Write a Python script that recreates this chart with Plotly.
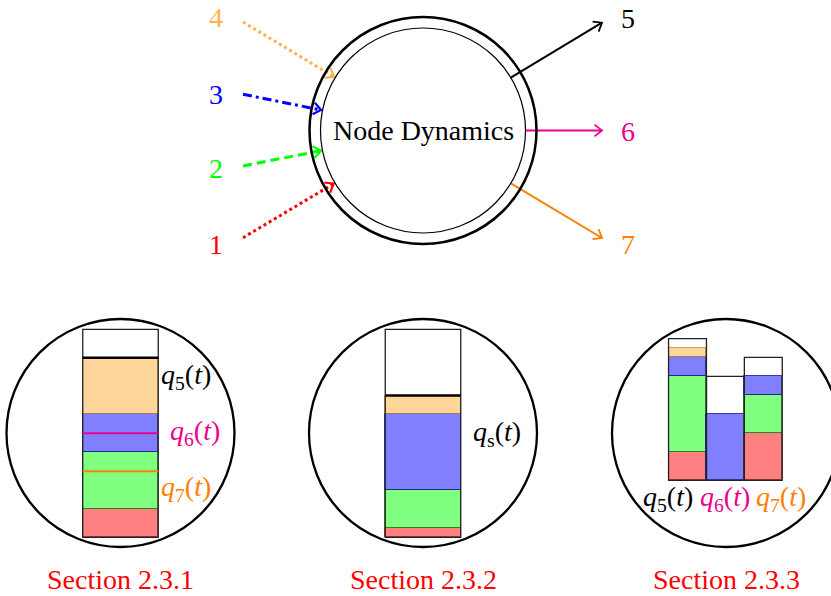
import numpy as np
import plotly.graph_objects as go

W, H = 831, 596
FONT = "Liberation Serif"
FS = 28
U = 9.45  # pixels per queue unit

# ---------------- data ----------------
in_labels = ["1", "2", "3", "4"]
out_labels = ["5", "6", "7"]

# Section 2.3.1 : one shared FIFO buffer, contents by origin (bottom -> top)
s1_red, s1_green, s1_blue, s1_orange = 3, 6, 4, 6
s1_capacity = 22
s1_level_q7 = 7
s1_level_q6 = 11

# Section 2.3.2 : shared buffer
s2_red, s2_green, s2_blue, s2_orange = 1, 4, 8, 2
s2_capacity = 22

# Section 2.3.3 : per-output queues q5, q6, q7
s3_queues = ["5", "6", "7"]
s3_red = [3, 0, 5]
s3_green = [8, 0, 4]
s3_blue = [2, 7, 2]
s3_orange = [1, 0, 0]
s3_capacity = [15, 11, 13]

section_titles = ["Section 2.3.1", "Section 2.3.2", "Section 2.3.3"]

# ---------------- styles / layout geometry ----------------
C_RED, C_GREEN, C_BLUE = "#FF0000", "#00FF00", "#0000FF"
C_LORANGE, C_MAG, C_ORANGE = "#FFB24D", "#EC008C", "#FF8000"
FILL = {"red": "#FF8080", "green": "#80FF80", "blue": "#8080FF", "orange": "#FFD699"}
EDGE = {"red": "rgba(128,0,0,0.7)", "green": "rgba(0,120,0,0.7)",
        "blue": "rgba(0,0,128,0.7)", "orange": "rgba(170,110,40,0.6)"}

CX, CY = 423, 130.5
R_OUT, R_IN = 113.5, 102.5

in_colors = [C_RED, C_GREEN, C_BLUE, C_LORANGE]
in_dash = ["3px,3px", "9px,5px", "9px,4px,3px,4px", "3px,3px"]
in_label_xy = [(216, 244), (216, 168), (216, 94), (216, 17)]
in_start = [(243, 237.7), (243, 166), (243, 94.3), (243, 22)]

out_colors = ["#000000", C_MAG, C_ORANGE]
out_label_xy = [(628, 18), (628, 131), (628, 244)]
out_end = [(602, 22.7), (602, 130.5), (602, 238)]

fig = go.Figure()
shapes = []
annotations = []


def circle(cx, cy, r, w):
    shapes.append(dict(type="circle", xref="x", yref="y", x0=cx - r, x1=cx + r,
                       y0=cy - r, y1=cy + r, line=dict(color="black", width=w)))


def chevron(tip, d, color, L=9.5, ang=38, w=2.0):
    a = np.radians(ang)
    pts = []
    for s in (1, -1):
        c, sn = np.cos(s * a), np.sin(s * a)
        rx = d[0] * c - d[1] * sn
        ry = d[0] * sn + d[1] * c
        pts.append((tip[0] - L * rx, tip[1] - L * ry))
    fig.add_trace(go.Scatter(x=[pts[0][0], tip[0], pts[1][0]], y=[pts[0][1], tip[1], pts[1][1]],
                             mode="lines", line=dict(color=color, width=w),
                             hoverinfo="skip", showlegend=False))


def text(x, y, s, color="black", size=FS):
    annotations.append(dict(x=x, y=y, xref="x", yref="y", text=s, showarrow=False,
                            font=dict(family=FONT, size=size, color=color),
                            xanchor="center", yanchor="middle", borderpad=0))


# main node
circle(CX, CY, R_OUT, 2.5)
circle(CX, CY, R_IN, 1.2)
text(CX, CY, "Node Dynamics")

# input arrows
for lab, (lx, ly), (sx, sy), col, dash in zip(in_labels, in_label_xy, in_start, in_colors, in_dash):
    v = np.array([CX - sx, CY - sy])
    d = v / np.linalg.norm(v)
    tip = np.array([CX, CY]) - d * (R_IN + 1.5)
    fig.add_trace(go.Scatter(x=[sx, tip[0] - d[0]], y=[sy, tip[1] - d[1]], mode="lines",
                             line=dict(color=col, width=3.0, dash=dash),
                             hoverinfo="skip", showlegend=False))
    chevron(tip, d, col, w=2.2)
    text(lx, ly, lab, col)

# output arrows
for lab, (lx, ly), (ex, ey), col in zip(out_labels, out_label_xy, out_end, out_colors):
    v = np.array([ex - CX, ey - CY])
    d = v / np.linalg.norm(v)
    st = np.array([CX, CY]) + d * R_IN
    fig.add_trace(go.Scatter(x=[st[0], ex], y=[st[1], ey], mode="lines",
                             line=dict(color=col, width=2.0),
                             hoverinfo="skip", showlegend=False))
    chevron((ex, ey), d, col, w=1.8)
    text(lx, ly, lab, col)


# stacked buffers
def stack(xc, width, bottom, vals, names):
    cum = 0
    for v, n in zip(vals, names):
        if v > 0:
            fig.add_trace(go.Bar(x=[xc], y=[-v * U], base=[bottom - cum * U], width=[width],
                                 marker=dict(color=FILL[n], line=dict(color=EDGE[n], width=1)),
                                 hoverinfo="skip", showlegend=False))
        cum += v
    return cum


def box(xc, width, bottom, cap, w=1.3, color="#222"):
    shapes.append(dict(type="rect", xref="x", yref="y", x0=xc - width / 2, x1=xc + width / 2,
                       y0=bottom, y1=bottom - cap * U, line=dict(color=color, width=w)))


def hline(xc, width, y, color, w):
    shapes.append(dict(type="line", xref="x", yref="y", x0=xc - width / 2, x1=xc + width / 2,
                       y0=y, y1=y, line=dict(color=color, width=w)))


order = ["red", "green", "blue", "orange"]
BOT_A = 537.3
BOT_B = 480.3
PANEL_CX = [120.5, 423, 726]
PANEL_CY = 433
PANEL_R = 114
for pcx in PANEL_CX:
    circle(pcx, PANEL_CY, PANEL_R, 2.3)

# panel 1
bw = 75.5
top1 = stack(PANEL_CX[0], bw, BOT_A, [s1_red, s1_green, s1_blue, s1_orange], order)
box(PANEL_CX[0], bw, BOT_A, s1_capacity)
hline(PANEL_CX[0], bw, BOT_A - top1 * U, "black", 2.4)
hline(PANEL_CX[0], bw, BOT_A - s1_level_q6 * U, C_MAG, 2)
hline(PANEL_CX[0], bw, BOT_A - s1_level_q7 * U, C_ORANGE, 2)
text(186, 376, "<i>q</i><sub>5</sub>(<i>t</i>)", "black")
text(195, 432, "<i>q</i><sub>6</sub>(<i>t</i>)", C_MAG)
text(186, 488, "<i>q</i><sub>7</sub>(<i>t</i>)", C_ORANGE)

# panel 2
top2 = stack(PANEL_CX[1], bw, BOT_A, [s2_red, s2_green, s2_blue, s2_orange], order)
box(PANEL_CX[1], bw, BOT_A, s2_capacity)
hline(PANEL_CX[1], bw, BOT_A - top2 * U, "black", 2.4)
text(497, 433, "<i>q</i><sub>s</sub>(<i>t</i>)", "black")

# panel 3
cw = 37.9
col_x = [687.5, 725.4, 763.3]
q_colors = ["black", C_MAG, C_ORANGE]
for i, q in enumerate(s3_queues):
    stack(col_x[i], cw, BOT_B, [s3_red[i], s3_green[i], s3_blue[i], s3_orange[i]], order)
    box(col_x[i], cw, BOT_B, s3_capacity[i])
for i, q in enumerate(s3_queues):
    text(668 + 56.5 * i, 498, "<i>q</i><sub>%s</sub>(<i>t</i>)" % q, q_colors[i])

# section titles
for pcx, t in zip(PANEL_CX, section_titles):
    text(pcx, 579, t, C_RED)

fig.update_layout(
    width=W, height=H, margin=dict(l=0, r=0, t=0, b=0),
    paper_bgcolor="white", plot_bgcolor="white",
    barmode="overlay", bargap=0,
    xaxis=dict(range=[0, W], visible=False, fixedrange=True),
    yaxis=dict(range=[H, 0], visible=False, fixedrange=True),
    shapes=shapes, annotations=annotations, showlegend=False,
)
fig.write_html("out.html", config={"displayModeBar": False},
               post_script="document.body.style.margin='0';")
